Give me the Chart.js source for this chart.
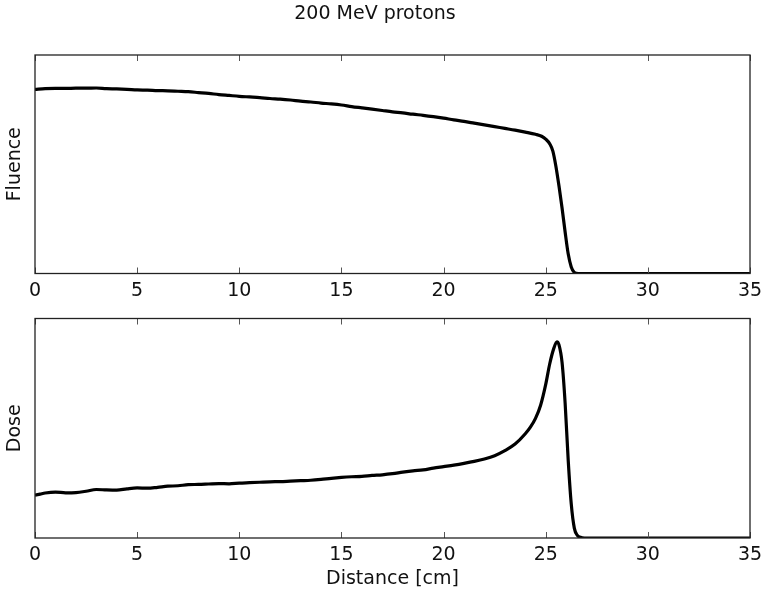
<!DOCTYPE html>
<html>
<head>
<meta charset="utf-8">
<script src="https://cdn.jsdelivr.net/npm/chart.js@4/dist/chart.umd.min.js"></script>
<style>
  html, body { margin: 0; padding: 0; background: #fff; }
  #wrap { position: relative; width: 761px; height: 593px; }
  #c1 { position: absolute; left: 0; top: 0; }
  #c2 { position: absolute; left: 0; top: 300px; }
</style>
</head>
<body>
<div id="wrap">
  <canvas id="c1" width="761" height="300"></canvas>
  <canvas id="c2" width="761" height="293"></canvas>
</div>
<script>
// ---- data (y normalised to axis height) ----
const chartTitle = '200 MeV protons';
const xLabel = 'Distance [cm]';
const topYLabel = 'Fluence';
const bottomYLabel = 'Dose';
const xTickValues = [0, 5, 10, 15, 20, 25, 30, 35];

const fluenceX = [0, 0.5, 1, 1.5, 2, 2.5, 3, 3.5, 4, 4.5, 5, 5.5, 6, 6.5, 7, 7.5, 8, 8.5, 9, 9.5,
  10, 10.5, 11, 11.5, 12, 12.5, 13, 13.5, 14, 14.5, 15, 15.5, 16, 16.5, 17, 17.5, 18, 18.5, 19, 19.5,
  20, 20.5, 21, 21.5, 22, 22.5, 23, 23.5, 24, 24.5, 24.8, 25.0, 25.2, 25.35, 25.5, 25.65, 25.8, 25.95,
  26.1, 26.25, 26.4, 26.6, 27, 28, 29, 30, 31, 32, 33, 34, 35];
const fluenceY = [0.843, 0.846, 0.847, 0.847, 0.848, 0.848, 0.849, 0.846, 0.845, 0.843, 0.840, 0.839, 0.837, 0.836, 0.834, 0.832, 0.828, 0.824, 0.819, 0.815,
  0.811, 0.808, 0.805, 0.801, 0.798, 0.794, 0.789, 0.785, 0.780, 0.776, 0.771, 0.764, 0.758, 0.752, 0.746, 0.740, 0.735, 0.729, 0.724, 0.718,
  0.711, 0.703, 0.696, 0.688, 0.680, 0.672, 0.664, 0.656, 0.647, 0.637, 0.628, 0.615, 0.593, 0.560, 0.490, 0.400, 0.300, 0.190,
  0.090, 0.030, 0.005, 0, 0, 0, 0, 0, 0, 0, 0, 0, 0];

const doseX = [0, 0.25, 0.5, 1, 1.5, 2, 2.5, 3, 3.5, 4, 4.5, 5, 5.5, 6, 6.5, 7, 7.5, 8, 8.5, 9, 9.5,
  10, 10.5, 11, 11.5, 12, 12.5, 13, 13.5, 14, 14.5, 15, 15.5, 16, 16.5, 17, 17.5, 18, 18.5, 19, 19.5,
  20, 20.5, 21, 21.5, 22, 22.5, 23, 23.5, 24, 24.25, 24.5, 24.75, 25.0, 25.2, 25.4, 25.55, 25.65, 25.8, 25.95,
  26.1, 26.25, 26.4, 26.55, 26.7, 26.9, 27, 28, 29, 30, 31, 32, 33, 34, 35];
const doseY = [0.195, 0.200, 0.205, 0.209, 0.206, 0.207, 0.213, 0.221, 0.219, 0.218, 0.224, 0.228, 0.227, 0.231, 0.236, 0.238, 0.243, 0.244, 0.246, 0.248, 0.247,
  0.250, 0.252, 0.254, 0.256, 0.257, 0.259, 0.261, 0.263, 0.267, 0.272, 0.276, 0.279, 0.281, 0.285, 0.288, 0.293, 0.300, 0.306, 0.310, 0.318,
  0.325, 0.332, 0.340, 0.349, 0.360, 0.375, 0.398, 0.428, 0.475, 0.505, 0.545, 0.605, 0.700, 0.795, 0.865, 0.894, 0.880, 0.800, 0.615,
  0.356, 0.155, 0.045, 0.012, 0.003, 0, 0, 0, 0, 0, 0, 0, 0, 0, 0];

// ---- helpers ----
Chart.defaults.font.family = "'DejaVu Sans', sans-serif";
Chart.defaults.color = '#111';
const FS = 19;

function pts(xs, ys) { return xs.map((x, i) => ({ x: x, y: ys[i] })); }

const framePlugin = {
  id: 'frame',
  afterDraw(chart) {
    const { ctx, chartArea: a } = chart;
    const xs = chart.scales.x;
    ctx.save();
    ctx.strokeStyle = '#555';
    ctx.lineWidth = 1;
    xs.ticks.forEach(t => {
      const px = Math.round(xs.getPixelForValue(t.value)) + 0.5;
      ctx.beginPath();
      ctx.moveTo(px, a.bottom); ctx.lineTo(px, a.bottom - 6);
      ctx.moveTo(px, a.top); ctx.lineTo(px, a.top + 6);
      ctx.stroke();
    });
    ctx.strokeStyle = '#222';
    ctx.lineWidth = 1.3;
    ctx.strokeRect(a.left, a.top, a.right - a.left, a.bottom - a.top);
    ctx.restore();
  }
};

function makeChart(id, xs, ys, yTitle, opts) {
  return new Chart(document.getElementById(id), {
    type: 'line',
    data: {
      datasets: [{
        data: pts(xs, ys),
        borderColor: '#000',
        borderWidth: 3.2,
        pointRadius: 0,
        fill: false,
        cubicInterpolationMode: 'monotone'
      }]
    },
    options: {
      responsive: false,
      animation: false,
      events: [],
      layout: { padding: opts.padding },
      plugins: {
        legend: { display: false },
        tooltip: { enabled: false },
        title: opts.title
      },
      scales: {
        x: {
          type: 'linear',
          min: 0, max: 35,
          afterBuildTicks(s) { s.ticks = xTickValues.map(v => ({ value: v })); },
          afterFit(s) { s.height = opts.xHeight; s.paddingLeft = 0; s.paddingRight = 0; },
          grid: { display: false, drawTicks: false },
          border: { display: false },
          ticks: { font: { size: FS }, padding: 6, color: '#111', maxRotation: 0 },
          title: opts.xTitle
        },
        y: {
          min: 0, max: 1,
          afterFit(s) { s.width = 35; },
          grid: { display: false, drawTicks: false },
          border: { display: false },
          ticks: { display: false },
          title: { display: true, text: yTitle, font: { size: FS }, color: '#111', padding: { top: 4, bottom: 0 } }
        }
      }
    },
    plugins: [framePlugin]
  });
}

makeChart('c1', fluenceX, fluenceY, topYLabel, {
  padding: { top: 0, right: 11, bottom: 0, left: 0 },
  xHeight: 26.5,
  title: { display: true, text: chartTitle, font: { size: FS, weight: 'normal' }, color: '#111', padding: { top: 2.6, bottom: 29.6 } },
  xTitle: { display: false }
});

makeChart('c2', doseX, doseY, bottomYLabel, {
  padding: { top: 18.5, right: 11, bottom: 0, left: 0 },
  xHeight: 55,
  title: { display: false },
  xTitle: { display: true, text: xLabel, font: { size: FS }, color: '#111', padding: { top: 2, bottom: 3 } }
});
</script>
</body>
</html>
